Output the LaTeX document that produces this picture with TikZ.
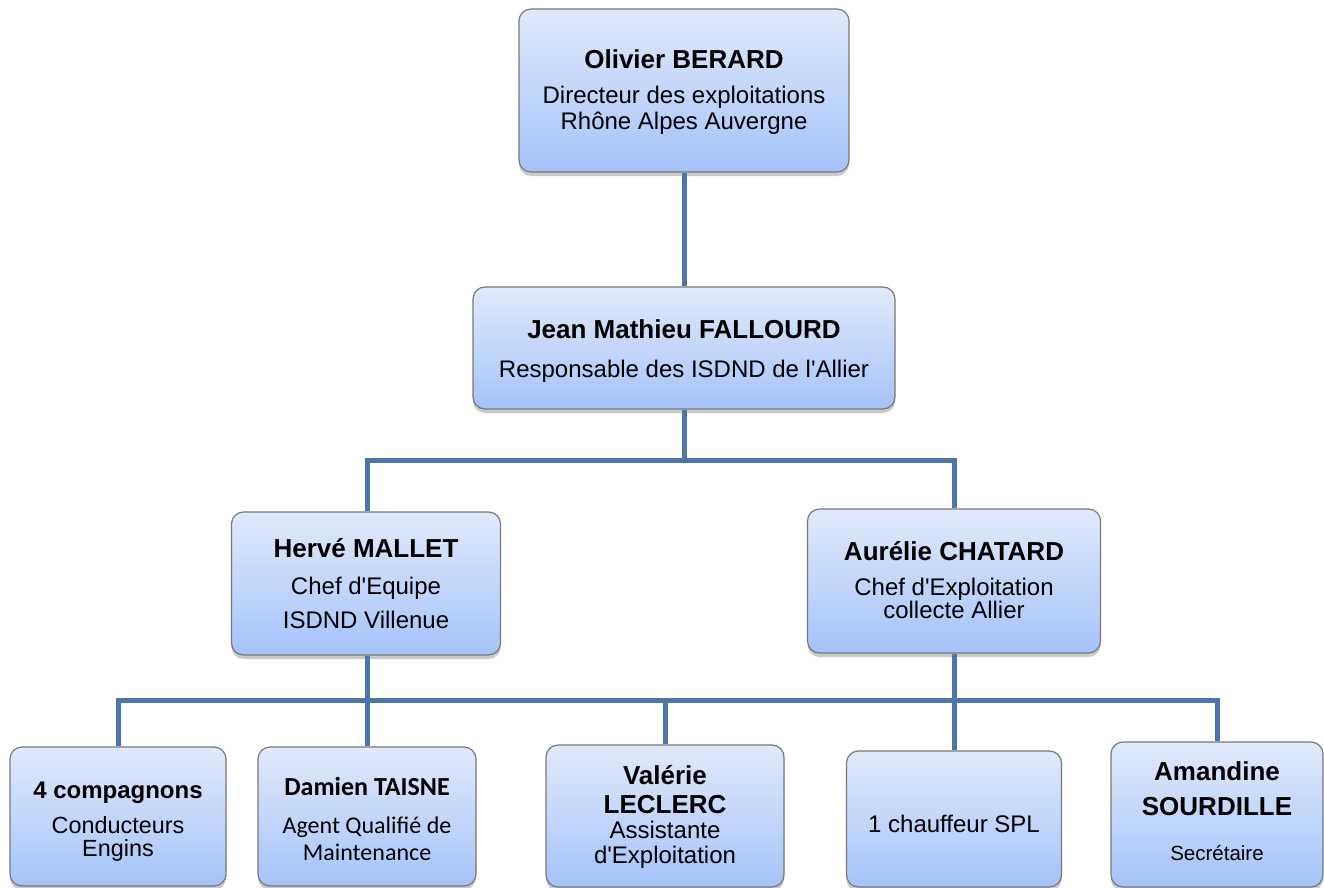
\documentclass[tikz,border=0pt]{standalone}
\usepackage{fontspec}
\setmainfont{Liberation Sans}
\newfontfamily\calfont{Carlito}
\usetikzlibrary{shadows}
\definecolor{connblue}{RGB}{74,118,172}
\definecolor{boxtop}{RGB}{225,234,251}
\definecolor{boxbot}{RGB}{164,195,249}
\definecolor{boxedge}{RGB}{120,120,120}
\newcommand\fsz[2]{\fontsize{#1}{#2}\selectfont}
\newcommand\nm{\fontsize{26}{25}\selectfont\bfseries}
\newcommand\qt{\textquotesingle}
\tikzset{
  orgbox/.style={draw=boxedge, line width=1.2pt, rounded corners=12pt,
    top color=boxtop, bottom color=boxbot, inner sep=0pt, align=center,
    text depth=0pt,
    drop shadow={shadow xshift=0pt, shadow yshift=-4pt, opacity=0.35, fill=black!60}},
  link/.style={draw=connblue, line width=5pt},
}
\begin{document}
\begin{tikzpicture}[x=1pt,y=-1pt]
\useasboundingbox (0,0) rectangle (1324,888);

% level 1
\node[orgbox, minimum width=330pt, minimum height=163pt, text height=77pt,
  font=\fsz{24}{25}] (olivier) at (684,90.5)
  {{\nm Olivier BERARD}\\[10pt]Directeur des exploitations\\Rhône Alpes Auvergne};

% level 2
\node[orgbox, minimum width=422pt, minimum height=122pt, text height=58pt,
  font=\fsz{24}{25}] (jean) at (684,348)
  {{\nm Jean Mathieu FALLOURD}\\[14pt]Responsable des ISDND de l\qt Allier};

% level 3
\node[orgbox, minimum width=269pt, minimum height=143pt, text height=89pt,
  font=\fsz{24}{34}] (herve) at (366,583.5)
  {{\nm Hervé MALLET}\\[3pt]Chef d\qt Equipe\\ISDND Villenue};
\node[orgbox, minimum width=293pt, minimum height=144pt, text height=74pt,
  font=\fsz{24}{23}] (aurelie) at (954,581)
  {{\nm Aurélie CHATARD}\\[12pt]Chef d\qt Exploitation\\collecte Allier};

% level 4
\node[orgbox, minimum width=216pt, minimum height=139pt, text height=79pt,
  font=\fsz{23.4}{23}] (b1) at (118,816.5)
  {{\fsz{24}{23}\bfseries 4 compagnons}\\[12pt]Conducteurs\\Engins};
\node[orgbox, minimum width=218pt, minimum height=139pt, text height=88pt,
  font=\calfont\fsz{24}{27}] (b2) at (367,816.5)
  {{\fsz{26}{27}\bfseries Damien TAISNE}\\[11pt]Agent Qualifié de\\Maintenance};
\node[orgbox, minimum width=238pt, minimum height=142pt, text height=94pt,
  font=\fsz{24}{25}] (b3) at (665,816)
  {{\nm Valérie}\\[4pt]{\nm LECLERC}\\Assistante\\d\qt Exploitation};
\node[orgbox, minimum width=215pt, minimum height=136pt, text height=26pt,
  font=\fsz{24}{25}] (b4) at (954,819)
  {1 chauffeur SPL};
\node[orgbox, minimum width=212pt, minimum height=145pt, text height=91pt,
  font=\fsz{20.5}{25}] (b5) at (1217,814.5)
  {{\nm Amandine}\\[10pt]{\nm SOURDILLE}\\[20pt]Secrétaire};

% connectors
\coordinate (j1) at (684,460);
\coordinate (h1) at (367,700);
\draw[link] (olivier.south) -- (jean.north);
\draw[link] (jean.south) -- (j1);
\draw[link] (herve.north -| h1) |- (j1) -| (aurelie.north);
\draw[link] (herve.south -| h1) -- (h1);
\draw[link] (b1.north) |- (h1) -| (b5.north);
\draw[link] (b2.north) -- (b2.north |- h1);
\draw[link] (b3.north) -- (b3.north |- h1);
\draw[link] (aurelie.south) -- (b4.north);
\end{tikzpicture}
\end{document}
